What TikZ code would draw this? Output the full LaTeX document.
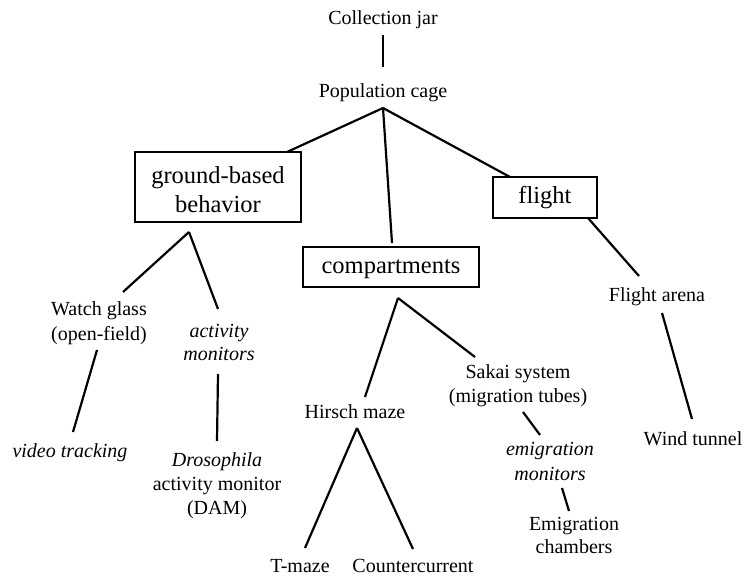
\documentclass[tikz,border=0pt]{standalone}
\usepackage{fontspec}
\setmainfont{Liberation Serif}
\newcommand{\mlines}[2][24]{{\fontsize{20}{#1}\selectfont\begin{tabular}[t]{@{}c@{}}#2\end{tabular}}}
\newcommand{\bmlines}[1]{{\fontsize{24.5}{29}\selectfont\begin{tabular}[t]{@{}c@{}}#1\end{tabular}}}
\begin{document}
\begin{tikzpicture}[x=1pt,y=-1pt,
  lbl/.style={inner sep=0pt,anchor=base,font=\fontsize{20}{24}\selectfont},
  boxlbl/.style={draw,line width=2.4pt,inner sep=0pt,anchor=base,font=\fontsize{24.5}{29}\selectfont},
  conn/.style={line width=2.2pt}]
\useasboundingbox (0,0) rectangle (745,579);
% nodes
\node[lbl] (cj) at (383,24) {Collection jar};
\node[lbl] (pop) at (383,97) {Population cage};
\node[boxlbl,text height=31pt,text depth=39pt,minimum width=166pt] (gb) at (218,183) {\bmlines{ground-based\\behavior}};
\node[boxlbl,text height=26pt,text depth=14pt,minimum width=176pt] (comp) at (391,273) {compartments};
\node[boxlbl,text height=26pt,text depth=15pt,minimum width=104pt] (fl) at (545,203) {flight};
\node[lbl] (wg) at (99,315) {\mlines[25]{Watch glass\\(open-field)}};
\node[lbl] (am) at (219,337) {\mlines[23]{\textit{activity}\\\textit{monitors}}};
\node[lbl] (vt) at (70,457) {\textit{video tracking}};
\node[lbl] (dam) at (217,466) {\mlines[24]{\textit{Drosophila}\\activity monitor\\(DAM)}};
\node[lbl] (hm) at (355,418) {Hirsch maze};
\node[lbl] (tm) at (300,572) {T-maze};
\node[lbl] (cc) at (413,572) {Countercurrent};
\node[lbl] (sk) at (518,378) {\mlines[24]{Sakai system\\(migration tubes)}};
\node[lbl] (em) at (550,455) {\mlines[25]{\textit{emigration}\\\textit{monitors}}};
\node[lbl] (ec) at (574,530) {\mlines[23]{Emigration\\chambers}};
\node[lbl] (fa) at (657,301) {Flight arena};
\node[lbl] (wt) at (693,445) {Wind tunnel};
% connector end points
\coordinate (cjB) at (383,35);
\coordinate (popT) at (383,67);
\coordinate (popB) at (383,108);
\coordinate (gbT) at (287,152);
\coordinate (compT) at (392,243);
\coordinate (flT) at (510,177);
\coordinate (gbB) at (189,232);
\coordinate (wgT) at (123,292);
\coordinate (amT) at (218,309);
\coordinate (wgB) at (97,350);
\coordinate (vtT) at (73,432);
\coordinate (amB) at (218,374);
\coordinate (damT) at (217,441);
\coordinate (compB) at (398,298);
\coordinate (hmT) at (365,397);
\coordinate (skT) at (475,357);
\coordinate (hmB) at (357,428);
\coordinate (tmT) at (305,548);
\coordinate (ccT) at (413,549);
\coordinate (skB) at (523,412);
\coordinate (emT) at (540,435);
\coordinate (emB) at (562,488);
\coordinate (ecT) at (569,511);
\coordinate (flB) at (588,218);
\coordinate (faT) at (639,276);
\coordinate (faB) at (662,313);
\coordinate (wtT) at (692,419);
% connectors
\draw[conn] (cjB) -- (popT);
\draw[conn] (popB) -- (gbT);
\draw[conn] (popB) -- (compT);
\draw[conn] (popB) -- (flT);
\draw[conn] (gbB) -- (wgT);
\draw[conn] (gbB) -- (amT);
\draw[conn] (wgB) -- (vtT);
\draw[conn] (amB) -- (damT);
\draw[conn] (compB) -- (hmT);
\draw[conn] (compB) -- (skT);
\draw[conn] (hmB) -- (tmT);
\draw[conn] (hmB) -- (ccT);
\draw[conn] (skB) -- (emT);
\draw[conn] (emB) -- (ecT);
\draw[conn] (flB) -- (faT);
\draw[conn] (faB) -- (wtT);
\end{tikzpicture}
\end{document}
